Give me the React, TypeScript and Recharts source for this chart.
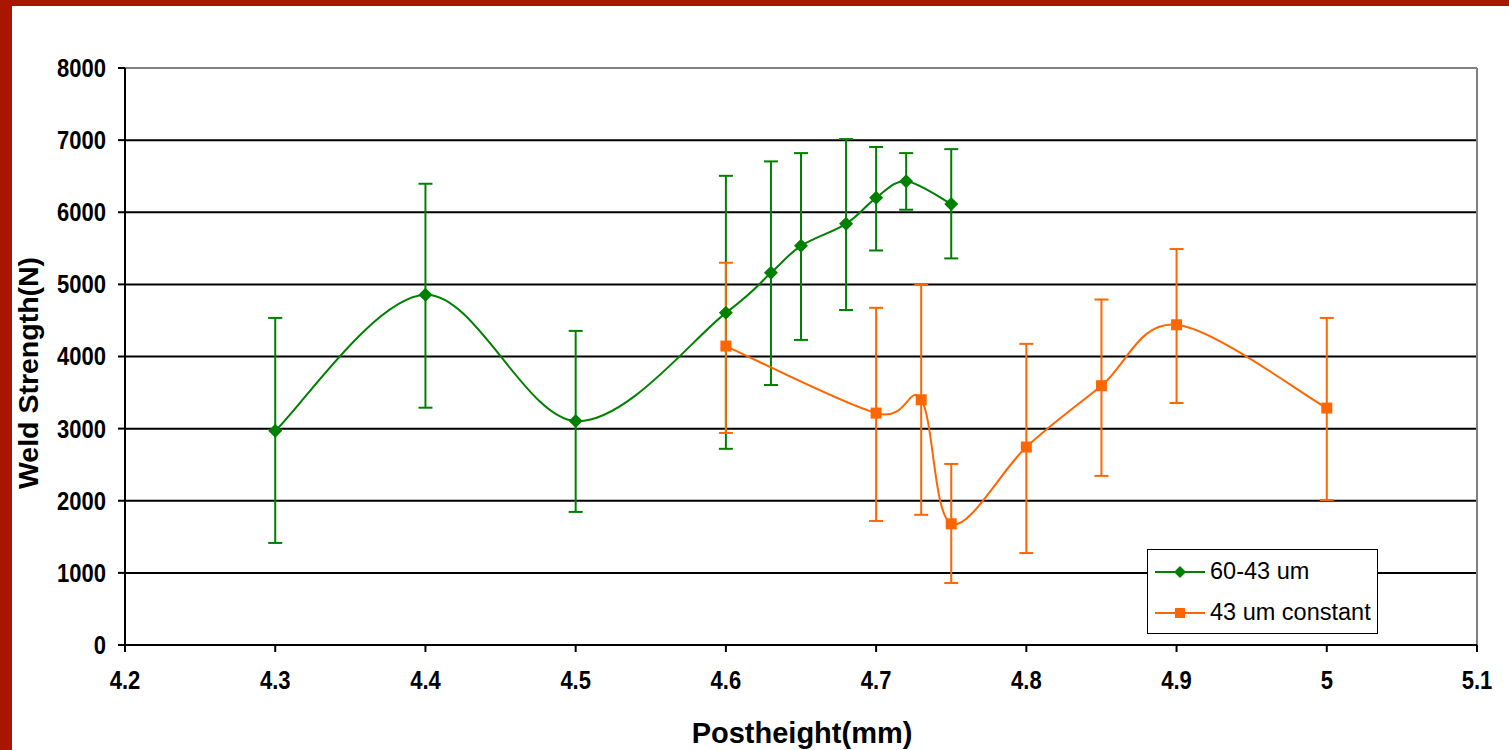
import React from "react";
import {
  LineChart,
  Line,
  XAxis,
  YAxis,
  CartesianGrid,
  ErrorBar,
  ReferenceLine,
} from "recharts";

const xTicks = [4.2, 4.3, 4.4, 4.5, 4.6, 4.7, 4.8, 4.9, 5, 5.1];
const yTicks = [0, 1000, 2000, 3000, 4000, 5000, 6000, 7000, 8000];

// 60-43 um
const greenX = [4.3, 4.4, 4.5, 4.6, 4.63, 4.65, 4.68, 4.7, 4.72, 4.75];
const greenY = [2970, 4855, 3105, 4605, 5160, 5535, 5840, 6200, 6430, 6115];
const greenLow = [1415, 3290, 1845, 2720, 3605, 4230, 4645, 5470, 6035, 5360];
const greenHigh = [4535, 6395, 4355, 6505, 6705, 6820, 7015, 6905, 6820, 6875];

// 43 um constant
const orangeX = [4.6, 4.7, 4.73, 4.75, 4.8, 4.85, 4.9, 5];
const orangeY = [4145, 3215, 3400, 1680, 2745, 3595, 4440, 3285];
const orangeLow = [2940, 1720, 1805, 860, 1275, 2345, 3355, 2010];
const orangeHigh = [5300, 4675, 4995, 2510, 4175, 4790, 5490, 4535];

const GREEN = "#008000";
const ORANGE = "#FF6600";
const FONT = "'Liberation Sans', Arial, sans-serif";

const build = (xs: number[], ys: number[], lo: number[], hi: number[]) =>
  xs.map((x, i) => ({ x, y: ys[i], err: [ys[i] - lo[i], hi[i] - ys[i]] }));

const greenData = build(greenX, greenY, greenLow, greenHigh);
const orangeData = build(orangeX, orangeY, orangeLow, orangeHigh);

// Excel-like smoothing (Catmull-Rom as cubic bezier)
function smoothCurve(context: any) {
  let pts: number[][] = [];
  return {
    areaStart() {},
    areaEnd() {},
    lineStart() {
      pts = [];
    },
    point(x: number, y: number) {
      pts.push([+x, +y]);
    },
    lineEnd() {
      const n = pts.length;
      if (!n) return;
      context.moveTo(pts[0][0], pts[0][1]);
      const t = 1 / 6;
      for (let i = 0; i < n - 1; i++) {
        const p0 = pts[Math.max(i - 1, 0)];
        const p1 = pts[i];
        const p2 = pts[i + 1];
        const p3 = pts[Math.min(i + 2, n - 1)];
        context.bezierCurveTo(
          p1[0] + (p2[0] - p0[0]) * t,
          p1[1] + (p2[1] - p0[1]) * t,
          p2[0] - (p3[0] - p1[0]) * t,
          p2[1] - (p3[1] - p1[1]) * t,
          p2[0],
          p2[1]
        );
      }
    },
  };
}

const Diamond = (props: any) => {
  const { cx, cy } = props;
  if (cx == null || cy == null) return null;
  const r = 7;
  return (
    <path
      key={`d-${cx}`}
      d={`M${cx},${cy - r}L${cx + r},${cy}L${cx},${cy + r}L${cx - r},${cy}Z`}
      fill={GREEN}
    />
  );
};

const Square = (props: any) => {
  const { cx, cy } = props;
  if (cx == null || cy == null) return null;
  return <rect key={`s-${cx}`} x={cx - 5.5} y={cy - 5.5} width={11} height={11} fill={ORANGE} />;
};

// narrow-looking bold tick text
const XTick = (props: any) => {
  const { x, y, payload } = props;
  return (
    <text
      transform={`translate(${x},${y}) scale(0.88,1)`}
      textAnchor="middle"
      dy="0.71em"
      fill="#000"
      fontFamily={FONT}
      fontWeight={700}
      fontSize={25}
    >
      {payload.value}
    </text>
  );
};

const YTick = (props: any) => {
  const { x, y, payload } = props;
  return (
    <text
      transform={`translate(${x},${y}) scale(0.88,1)`}
      textAnchor="end"
      dy="0.355em"
      fill="#000"
      fontFamily={FONT}
      fontWeight={700}
      fontSize={25}
    >
      {payload.value}
    </text>
  );
};

const LegendBox = () => (
  <div
    style={{
      position: "absolute",
      left: 1147,
      top: 549,
      border: "1.5px solid #000",
      background: "#fff",
      width: 229,
      height: 83,
      fontFamily: FONT,
      fontSize: 23.5,
      color: "#000",
      boxSizing: "content-box",
    }}
  >
    {[
      { name: "60-43 um", color: GREEN, square: false },
      { name: "43 um constant", color: ORANGE, square: true },
    ].map((it, i) => (
      <div key={it.name} style={{ display: "flex", alignItems: "center", height: 41, marginTop: i === 0 ? 1 : 0 }}>
        <svg width={62} height={20} style={{ display: "block" }}>
          <line x1={7} y1={10} x2={57} y2={10} stroke={it.color} strokeWidth={2} />
          {it.square ? (
            <rect x={27} y={5} width={10} height={10} fill={it.color} />
          ) : (
            <path d="M32,4L38,10L32,16L26,10Z" fill={it.color} />
          )}
        </svg>
        <span>{it.name}</span>
      </div>
    ))}
  </div>
);

export default function App() {
  return (
    <div style={{ position: "absolute", left: 0, top: 0, width: 1509, height: 750, background: "#fff" }}>
      <div style={{ position: "absolute", left: 0, top: 0, width: 1509, height: 6, background: "#AA1500" }} />
      <div style={{ position: "absolute", left: 0, top: 0, width: 12, height: 750, background: "#AA1500" }} />
      <div style={{ position: "absolute", left: 0, top: 0 }}>
        <LineChart width={1509} height={750} margin={{ top: 68, right: 32, left: 65, bottom: 45 }}>
          <CartesianGrid horizontal vertical={false} stroke="#000" strokeWidth={2} />
          <XAxis
            type="number"
            dataKey="x"
            domain={[4.2, 5.1]}
            ticks={xTicks}
            allowDuplicatedCategory={false}
            height={60}
            tickSize={7}
            tickMargin={19}
            stroke="#000"
            strokeWidth={2}
            tick={<XTick />}
          />
          <YAxis
            type="number"
            dataKey="y"
            domain={[0, 8000]}
            ticks={yTicks}
            width={60}
            tickSize={7}
            tickMargin={12}
            stroke="#000"
            strokeWidth={2}
            tick={<YTick />}
          />
          <ReferenceLine y={8000} stroke="#808080" strokeWidth={2} />
          <ReferenceLine x={5.1} stroke="#808080" strokeWidth={2} />
          <Line
            data={greenData}
            dataKey="y"
            name="60-43 um"
            type={smoothCurve as any}
            stroke={GREEN}
            strokeWidth={2}
            dot={Diamond}
            activeDot={false}
            isAnimationActive={false}
          >
            <ErrorBar dataKey="err" direction="y" width={7} stroke={GREEN} strokeWidth={2} isAnimationActive={false} />
          </Line>
          <Line
            data={orangeData}
            dataKey="y"
            name="43 um constant"
            type={smoothCurve as any}
            stroke={ORANGE}
            strokeWidth={2}
            dot={Square}
            activeDot={false}
            isAnimationActive={false}
          >
            <ErrorBar dataKey="err" direction="y" width={7} stroke={ORANGE} strokeWidth={2} isAnimationActive={false} />
          </Line>
        </LineChart>
      </div>
      <LegendBox />
      <div
        style={{
          position: "absolute",
          left: 28,
          top: 373,
          transform: "translate(-50%, -50%) rotate(-90deg)",
          fontFamily: FONT,
          fontWeight: 700,
          fontSize: 28.5,
          whiteSpace: "nowrap",
          color: "#000",
        }}
      >
        Weld Strength(N)
      </div>
      <div
        style={{
          position: "absolute",
          left: 802,
          top: 733,
          transform: "translate(-50%, -50%)",
          fontFamily: FONT,
          fontWeight: 700,
          fontSize: 29,
          whiteSpace: "nowrap",
          color: "#000",
        }}
      >
        Postheight(mm)
      </div>
    </div>
  );
}
